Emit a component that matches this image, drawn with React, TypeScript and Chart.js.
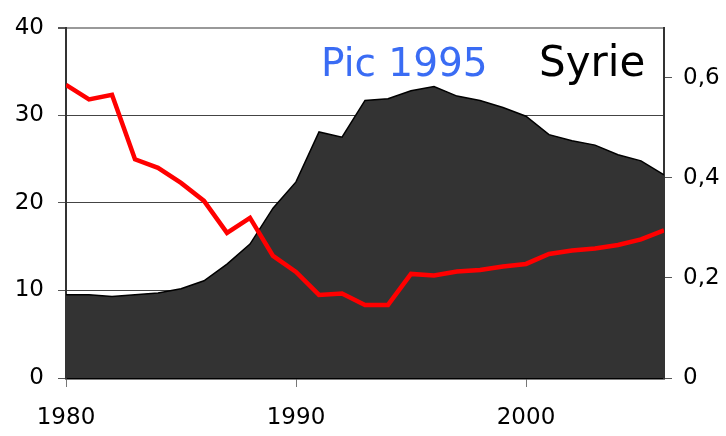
import React, { useEffect, useRef } from "react";
import { Chart, registerables } from "chart.js";

Chart.register(...registerables);

const years = [1980, 1981, 1982, 1983, 1984, 1985, 1986, 1987, 1988, 1989, 1990, 1991, 1992, 1993, 1994, 1995, 1996, 1997, 1998, 1999, 2000, 2001, 2002, 2003, 2004, 2005, 2006];
const areaValues = [9.5, 9.5, 9.3, 9.5, 9.7, 10.2, 11.1, 13.0, 15.3, 19.4, 22.4, 28.1, 27.5, 31.7, 31.9, 32.8, 33.3, 32.2, 31.7, 30.9, 29.9, 27.8, 27.1, 26.6, 25.5, 24.8, 23.2];
const redValues = [0.586, 0.557, 0.566, 0.437, 0.42, 0.39, 0.354, 0.29, 0.32, 0.244, 0.212, 0.166, 0.169, 0.146, 0.146, 0.208, 0.205, 0.213, 0.216, 0.223, 0.228, 0.248, 0.255, 0.259, 0.266, 0.277, 0.295];
const xTicks = [1980, 1990, 2000];
const leftTicks = [0, 10, 20, 30, 40];
const rightTicks = [0, 0.2, 0.4, 0.6];
const peakLabel = "Pic 1995";
const countryLabel = "Syrie";

const tickFont = { family: "'DejaVu Sans', Verdana, sans-serif", size: 23 };

const textPlugin = {
  id: "annotText",
  afterDatasetsDraw(chart: any) {
    const ctx = chart.ctx;
    ctx.save();
    ctx.textBaseline = "alphabetic";
    ctx.textAlign = "left";
    ctx.font = "39px 'DejaVu Sans', sans-serif";
    ctx.fillStyle = "#3a6cf4";
    ctx.fillText(peakLabel, 321, 76);
    ctx.font = "42px 'DejaVu Sans', sans-serif";
    ctx.fillStyle = "#000000";
    ctx.fillText(countryLabel, 539, 76);
    ctx.restore();
  },
};

export default function App() {
  const ref = useRef<HTMLCanvasElement | null>(null);
  useEffect(() => {
    document.body.style.margin = "0";
    const canvas = ref.current!;
    const chart = new Chart(canvas, {
      type: "line",
      data: {
        datasets: [
          {
            data: years.map((y, i) => ({ x: y, y: redValues[i] })),
            borderColor: "#ff0000",
            borderWidth: 4.5,
            pointRadius: 0,
            fill: false,
            yAxisID: "y1",
            order: 0,
            tension: 0,
          },
          {
            data: years.map((y, i) => ({ x: y, y: areaValues[i] })),
            borderColor: "#000000",
            borderWidth: 1.5,
            backgroundColor: "#333333",
            pointRadius: 0,
            fill: "origin",
            yAxisID: "y",
            order: 1,
            tension: 0,
          },
        ],
      },
      plugins: [textPlugin],
      options: {
        animation: false,
        responsive: false,
        maintainAspectRatio: false,
        layout: { padding: { top: 22, left: 0, right: 0, bottom: 0 } },
        plugins: { legend: { display: false }, tooltip: { enabled: false } },
        scales: {
          x: {
            type: "linear",
            min: 1980,
            max: 2006,
            afterFit: (s: any) => { s.height = 58; },
            afterBuildTicks: (s: any) => { s.ticks = xTicks.map((v) => ({ value: v })); },
            ticks: { color: "#000", font: tickFont, padding: 17, maxRotation: 0, callback: (v: any) => String(v) },
            grid: { drawOnChartArea: false, drawTicks: true, tickLength: 9, color: "#777", lineWidth: 1 },
            border: { color: "#000", width: 2.5 },
          },
          y: {
            position: "left",
            min: 0,
            max: 40,
            afterFit: (s: any) => { s.width = 66; },
            afterBuildTicks: (s: any) => { s.ticks = leftTicks.map((v) => ({ value: v })); },
            ticks: { color: "#000", font: tickFont, padding: 14 },
            grid: {
              drawOnChartArea: true,
              tickLength: 8,
              color: (c: any) => (c.tick && c.tick.value === 40 ? "#999999" : "#444444"),
              lineWidth: (c: any) => (c.tick && c.tick.value === 40 ? 2 : 1),
              tickColor: "#555",
            },
            border: { color: "#333", width: 2 },
          },
          y1: {
            position: "right",
            min: 0,
            max: 0.7,
            afterFit: (s: any) => { s.width = 62; },
            afterBuildTicks: (s: any) => { s.ticks = rightTicks.map((v) => ({ value: v })); },
            ticks: {
              color: "#000",
              font: tickFont,
              padding: 11,
              callback: (v: any) => (v === 0 ? "0" : Number(v).toFixed(1).replace(".", ",")),
            },
            grid: { drawOnChartArea: false, tickLength: 8, color: "#555" },
            border: { color: "#333", width: 2 },
          },
        },
      },
    } as any);
    return () => chart.destroy();
  }, []);
  return (
    <div style={{ width: 726, height: 436, background: "#fff" }}>
      <canvas ref={ref} width={726} height={436} style={{ display: "block", width: 726, height: 436 }} />
    </div>
  );
}
